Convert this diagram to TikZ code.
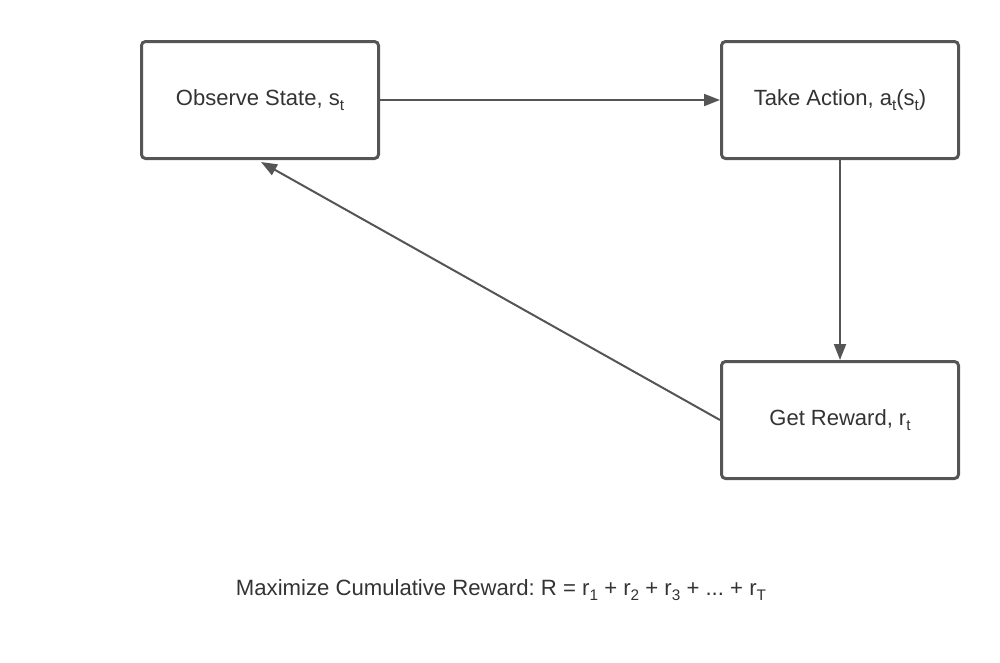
\documentclass[tikz,border=0pt]{standalone}
\usepackage{fontspec}
\setmainfont{Liberation Sans}
\usetikzlibrary{arrows.meta}
\frenchspacing
\definecolor{linegray}{HTML}{555555}
\definecolor{textgray}{HTML}{333333}
\newcommand{\mysub}[1]{\raisebox{-0.4ex}{\fontsize{11.5}{13}\selectfont #1}}
\begin{document}
\begin{tikzpicture}[x=0.75pt,y=-0.75pt,
  box/.style={draw=linegray, line width=2.25pt, rounded corners=3pt, fill=white,
    minimum width=240*0.75pt-2.25pt, minimum height=120*0.75pt-2.25pt, inner sep=0pt,
    text=textgray, font=\fontsize{16.5}{19}\selectfont},
  conn/.style={draw=linegray, line width=1.5pt, -{Triangle[length=12pt,width=9pt]}}]
\useasboundingbox (0,0) rectangle (1000,662);
\node[box] (obs) at (260,100) {\raisebox{-1.5pt}{Observe State, s\mysub{t}}};
\node[box] (act) at (840,100) {\raisebox{-1.5pt}{Take Action, a\mysub{t}(s\mysub{t})}};
\node[box] (rew) at (840,420) {\raisebox{-1.5pt}{Get Reward, r\mysub{t}}};
\node[text=textgray, font=\fontsize{16.6}{19}\selectfont] (max) at (501,590)
  {\frenchspacing Maximize Cumulative Reward: R = r\mysub{1} + r\mysub{2} + r\mysub{3} + ... + r\mysub{T}};
\draw[conn] (obs.east) -- (act.west);
\draw[conn] (act.south) -- (rew.north);
\coordinate (tip) at (261,162);
\draw[conn] (rew.west) -- (tip);
\end{tikzpicture}
\end{document}
